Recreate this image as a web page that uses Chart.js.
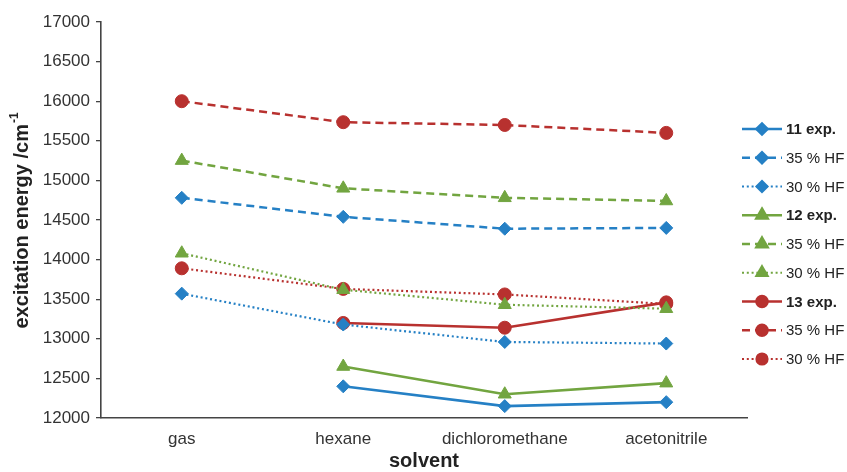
<!DOCTYPE html>
<html>
<head>
<meta charset="utf-8">
<script src="https://cdn.jsdelivr.net/npm/chart.js@4/dist/chart.umd.min.js"></script>
<style>
html,body{margin:0;padding:0;background:#fff;}
#wrap{position:relative;width:847px;height:472px;}
</style>
</head>
<body>
<div id="wrap"><canvas id="c"></canvas></div>
<script>
// ---- data ----
const categories = ['gas', 'hexane', 'dichloromethane', 'acetonitrile'];
const yTickMin = 12000, yTickMax = 17000, yTickStep = 500;

const s11exp  = [null, 12400, 12150, 12200];
const s11_35  = [14780, 14540, 14390, 14400];
const s11_30  = [13570, 13180, 12960, 12940];
const s12exp  = [null, 12650, 12300, 12440];
const s12_35  = [15250, 14900, 14780, 14740];
const s12_30  = [14080, 13620, 13430, 13380];
const s13exp  = [null, 13200, 13140, 13460];
const s13_35  = [16000, 15735, 15700, 15600];
const s13_30  = [13890, 13630, 13560, 13440];

const seriesLabels = ['11 exp.', '35 % HF', '30 % HF', '12 exp.', '35 % HF', '30 % HF', '13 exp.', '35 % HF', '30 % HF'];

// ---- styles ----
const BLUE = '#2580c5', GREEN = '#72a540', RED = '#b8312f';
const DASH = [8, 5], DOT = [2, 2.8];

function ds(label, data, color, style, kind) {
  const base = {
    label, data, borderColor: color, backgroundColor: color,
    pointBackgroundColor: color, pointBorderColor: color, pointBorderWidth: 1,
    pointStyle: style, spanGaps: false, tension: 0,
    pointRadius: style === 'triangle' ? 7.5 : (style === 'rectRot' ? 6.5 : 6.5),
    pointHoverRadius: 7
  };
  if (kind === 'exp') { base.borderWidth = 2.6; base.borderDash = []; base.isExp = true; }
  else if (kind === '35') { base.borderWidth = 2.5; base.borderDash = DASH; }
  else { base.borderWidth = 2.2; base.borderDash = DOT; }
  return base;
}

const datasets = [
  ds(seriesLabels[0], s11exp, BLUE, 'rectRot', 'exp'),
  ds(seriesLabels[1], s11_35, BLUE, 'rectRot', '35'),
  ds(seriesLabels[2], s11_30, BLUE, 'rectRot', '30'),
  ds(seriesLabels[3], s12exp, GREEN, 'triangle', 'exp'),
  ds(seriesLabels[4], s12_35, GREEN, 'triangle', '35'),
  ds(seriesLabels[5], s12_30, GREEN, 'triangle', '30'),
  ds(seriesLabels[6], s13exp, RED, 'circle', 'exp'),
  ds(seriesLabels[7], s13_35, RED, 'circle', '35'),
  ds(seriesLabels[8], s13_30, RED, 'circle', '30')
];

const FONT = '"Liberation Sans", Arial, Helvetica, sans-serif';

const decorPlugin = {
  id: 'decor',
  afterDraw(chart) {
    const ctx = chart.ctx, a = chart.chartArea;
    ctx.save();
    // x title
    ctx.fillStyle = '#222';
    ctx.font = 'bold 20px ' + FONT;
    ctx.textAlign = 'center';
    ctx.textBaseline = 'middle';
    ctx.fillText('solvent', (a.left + a.right) / 2, 461);
    // y title with superscript
    ctx.save();
    ctx.translate(22, 221);
    ctx.rotate(-Math.PI / 2);
    const main = 'excitation energy /cm', sup = '-1';
    ctx.font = 'bold 20px ' + FONT;
    const w1 = ctx.measureText(main).width;
    ctx.font = 'bold 12px ' + FONT;
    const w2 = ctx.measureText(sup).width;
    const start = -(w1 + w2) / 2;
    ctx.textAlign = 'left';
    ctx.font = 'bold 20px ' + FONT;
    ctx.fillText(main, start, 0);
    ctx.font = 'bold 12px ' + FONT;
    ctx.fillText(sup, start + w1 + 1, -7);
    ctx.restore();
    // legend
    const x0 = 742, x1 = 782, tx = 786, y0 = 129, dy = 28.75;
    chart.data.datasets.forEach((d, i) => {
      const y = y0 + i * dy;
      ctx.save();
      ctx.strokeStyle = d.borderColor;
      ctx.lineWidth = d.borderWidth;
      ctx.setLineDash(d.borderDash || []);
      ctx.beginPath();
      ctx.moveTo(x0, y); ctx.lineTo(x1, y);
      ctx.stroke();
      ctx.setLineDash([]);
      ctx.fillStyle = d.borderColor;
      Chart.helpers.drawPoint(ctx, {
        pointStyle: d.pointStyle, rotation: 0,
        radius: d.pointStyle === 'triangle' ? 6.5 : 5.5, borderWidth: 1
      }, (x0 + x1) / 2, y);
      ctx.fill();
      ctx.restore();
      ctx.fillStyle = '#222';
      ctx.font = (d.isExp ? 'bold ' : '') + '15px ' + FONT;
      ctx.textAlign = 'left';
      ctx.textBaseline = 'middle';
      ctx.fillText(d.label, tx, y + 1);
    });
    ctx.restore();
  }
};

new Chart(document.getElementById('c'), {
  type: 'line',
  data: { labels: categories, datasets },
  options: {
    responsive: true,
    maintainAspectRatio: false,
    animation: false,
    layout: { padding: { left: 0, right: 100, top: 22, bottom: 0 } },
    plugins: { legend: { display: false }, tooltip: { enabled: false } },
    scales: {
      x: {
        type: 'category',
        offset: true,
        grid: { display: false, drawTicks: false },
        border: { display: true, color: '#444', width: 1.6 },
        ticks: { color: '#333', font: { family: FONT, size: 17 }, padding: 11, maxRotation: 0, autoSkip: false },
        afterFit(scale) { scale.height = 54; }
      },
      y: {
        min: yTickMin, max: yTickMax,
        grid: { display: true, drawOnChartArea: false, drawTicks: true, tickLength: 5, color: '#444', lineWidth: 1.3 },
        border: { display: true, color: '#444', width: 1.6 },
        ticks: {
          stepSize: yTickStep, color: '#333', font: { family: FONT, size: 17 }, padding: 6,
          callback: v => String(v)
        },
        afterFit(scale) { scale.width = 101; }
      }
    }
  },
  plugins: [decorPlugin]
});
</script>
</body>
</html>
